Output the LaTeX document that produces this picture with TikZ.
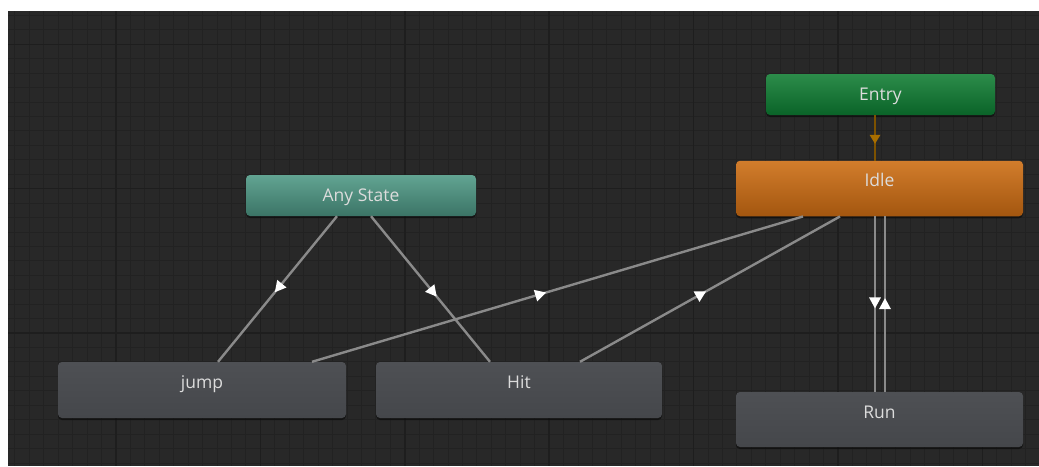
\documentclass[tikz,border=0pt]{standalone}
\usepackage{fontspec}
\setmainfont{Open Sans}
\usetikzlibrary{calc,decorations.markings,shadows}

\definecolor{paper}{HTML}{FFFFFF}
\definecolor{canvas}{HTML}{282828}
\definecolor{gridminor}{HTML}{222222}
\definecolor{gridmajor}{HTML}{1E1E1E}
\definecolor{label}{HTML}{DCDCDC}
\definecolor{link}{HTML}{8A8A8A}
\definecolor{entrylink}{HTML}{7D5200}
\definecolor{entrytip}{HTML}{A86E00}
\definecolor{entrytop}{HTML}{2C8C4A}
\definecolor{entrybot}{HTML}{0A6328}
\definecolor{idletop}{HTML}{D27D2C}
\definecolor{idlebot}{HTML}{A3560F}
\definecolor{anytop}{HTML}{62A492}
\definecolor{anybot}{HTML}{3B7466}
\definecolor{greytop}{HTML}{4E5054}
\definecolor{greybot}{HTML}{45474B}

\tikzset{
  statebox/.style={rectangle, rounded corners=4pt, inner sep=0pt, text=label,
    font=\fontsize{17.5}{20}\selectfont,
    drop shadow={shadow xshift=0pt, shadow yshift=-2pt, opacity=0.45, fill=black}},
  shortbox/.style={statebox, minimum height=41pt, text height=26pt, text depth=15pt},
  tallbox/.style={statebox, minimum height=56pt, text height=26pt, text depth=30pt},
  entrystate/.style={shortbox, top color=entrytop, bottom color=entrybot},
  anystate/.style={shortbox, top color=anytop, bottom color=anybot},
  idlestate/.style={tallbox, top color=idletop, bottom color=idlebot},
  plainstate/.style={tallbox, top color=greytop, bottom color=greybot},
  tr/.style={draw=link, line width=2.4pt, postaction={decorate},
    decoration={markings, mark=at position #1 with
      {\fill[white] (6pt,0pt) -- (-5pt,6pt) -- (-5pt,-6pt) -- cycle;}}},
  tr/.default=0.5,
  entrytr/.style={draw=entrylink, line width=2.4pt, postaction={decorate},
    decoration={markings, mark=at position #1 with
      {\fill[entrytip] (5pt,0pt) -- (-4pt,5.5pt) -- (-4pt,-5.5pt) -- cycle;}}},
  entrytr/.default=0.5,
  minorline/.style={draw=gridminor, line width=1pt},
  majorline/.style={draw=gridmajor, line width=1.5pt},
}

\begin{document}
\begin{tikzpicture}[x=1pt, y=-1pt]
\useasboundingbox (0,0) rectangle (1039,466);
\fill[paper] (0,0) rectangle (1039,466);

% editor canvas with its grid
\fill[canvas] (8,11) rectangle (1039,466);
\begin{scope}
  \clip (8,11) rectangle (1039,466);
  \foreach \x in {14.9,29.34,...,1045} \draw[minorline] (\x,11) -- (\x,466);
  \foreach \y in {15.4,29.84,...,470} \draw[minorline] (8,\y) -- (1039,\y);
  \foreach \x in {116,260.4,...,1045} \draw[majorline] (\x,11) -- (\x,466);
  \foreach \y in {44.3,188.7,...,470} \draw[majorline] (8,\y) -- (1039,\y);
\end{scope}

% states
\node[entrystate, minimum width=229pt] (entry) at (880.5,94.5) {Entry};
\node[idlestate, minimum width=287pt, minimum height=55.5pt, text depth=29.5pt] (idle) at (879.5,188.5) {Idle};
\node[anystate, minimum width=230pt] (any) at (361,195.5) {Any State};
\node[plainstate, minimum width=288pt] (jump) at (202,390) {jump};
\node[plainstate, minimum width=286pt] (hit) at (519,390) {Hit};
\node[plainstate, minimum width=287pt, minimum height=55pt, text depth=29pt] (run) at (879.5,419.5) {Run};

% transitions
\draw[entrytr=0.52] ($(entry.south)+(-5.5,0)$) -- ($(idle.north)+(-4.5,0)$);
\draw[tr=0.49] ($(any.south)+(-24,0)$) -- ($(jump.north)+(16,0)$);
\draw[tr=0.52] ($(any.south)+(10,0)$) -- ($(hit.north)+(-29,0)$);
\draw[tr=0.465] ($(jump.north)+(110,0)$) -- ($(idle.south)+(-76.5,0)$);
\draw[tr=0.465] ($(hit.north)+(61,0)$) -- ($(idle.south)+(-39.5,0)$);
\draw[tr=0.49] ($(idle.south)+(-4.5,0)$) -- ($(run.north)+(-4.5,0)$);
\draw[tr=0.5] ($(run.north)+(5.5,0)$) -- ($(idle.south)+(5.5,0)$);
\end{tikzpicture}
\end{document}
